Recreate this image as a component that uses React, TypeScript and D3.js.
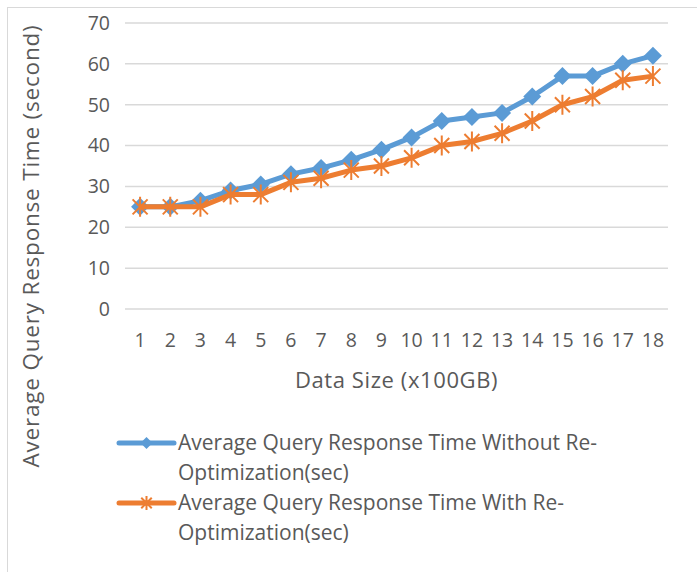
import { useEffect, useRef } from 'react';
import * as d3 from 'd3';

const categories = ['1', '2', '3', '4', '5', '6', '7', '8', '9', '10', '11', '12', '13', '14', '15', '16', '17', '18'];
const withoutReopt = [25, 25, 26.5, 29, 30.5, 33, 34.5, 36.5, 39, 42, 46, 47, 48, 52, 57, 57, 60, 62];
const withReopt = [25, 25, 25, 28, 28, 31, 32, 34, 35, 37, 40, 41, 43, 46, 50, 52, 56, 57];
const yTicks = [0, 10, 20, 30, 40, 50, 60, 70];
const seriesNames = [
  ['Average Query Response Time Without Re-', 'Optimization(sec)'],
  ['Average Query Response Time With Re-', 'Optimization(sec)'],
];

export default function App() {
  const svgRef = useRef<SVGSVGElement>(null);

  useEffect(() => {
    const W = 697, H = 572;
    const left = 125, right = 668, top = 23, bottom = 309;
    const font = '"Open Sans", Lato, sans-serif';
    const textColor = '#595959';
    const blue = '#5b9bd5', orange = '#ed7d31';

    const svg = d3.select(svgRef.current).attr('width', W).attr('height', H);
    svg.selectAll('*').remove();

    // chart border (only top/left visible in the crop)
    svg.append('rect').attr('x', 7.5).attr('y', 7.5).attr('width', W + 20).attr('height', H + 20)
      .attr('fill', '#fff').attr('stroke', '#d9d9d9').attr('stroke-width', 1);

    const x = d3.scaleBand().domain(categories).range([left, right]);
    const y = d3.scaleLinear().domain([0, 70]).range([bottom, top]);
    const cx = (i: number) => (x(categories[i]) as number) + x.bandwidth() / 2;

    // grid
    svg.append('g').selectAll('line').data(yTicks).enter().append('line')
      .attr('x1', left).attr('x2', right)
      .attr('y1', d => y(d)).attr('y2', d => y(d))
      .attr('stroke', '#d9d9d9').attr('stroke-width', 1.5);

    // y tick labels
    svg.append('g').selectAll('text').data(yTicks).enter().append('text')
      .attr('x', 110).attr('y', d => y(d)).attr('dy', '0.35em')
      .attr('text-anchor', 'end').attr('fill', textColor)
      .attr('font-family', font).attr('font-size', 19.5).text(d => d);

    // x tick labels
    svg.append('g').selectAll('text').data(categories).enter().append('text')
      .attr('x', (d, i) => cx(i)).attr('y', 340).attr('dy', '0.35em')
      .attr('text-anchor', 'middle').attr('fill', textColor)
      .attr('font-family', font).attr('font-size', 19.5).text(d => d);

    // axis titles
    svg.append('text').attr('x', (left + right) / 2).attr('y', 380).attr('dy', '0.35em')
      .attr('text-anchor', 'middle').attr('fill', textColor).attr('letter-spacing', 0.6)
      .attr('font-family', font).attr('font-size', 22).text('Data Size (x100GB)');
    svg.append('text').attr('transform', 'translate(31,246) rotate(-90)').attr('dy', '0.35em')
      .attr('text-anchor', 'middle').attr('fill', textColor).attr('letter-spacing', 0.8)
      .attr('font-family', font).attr('font-size', 22.5).text('Average Query Response Time (second)');

    const line = d3.line<number>().x((d, i) => cx(i)).y(d => y(d));

    const diamond = (g: any, px: number, py: number, r: number) =>
      g.append('path').attr('d', `M${px},${py - r}L${px + r},${py}L${px},${py + r}L${px - r},${py}Z`).attr('fill', blue);
    const star = (g: any, px: number, py: number, r: number) => {
      const d = r * 0.75;
      g.append('path')
        .attr('d', `M${px},${py - r}L${px},${py + r}M${px - d},${py - d}L${px + d},${py + d}M${px - d},${py + d}L${px + d},${py - d}`)
        .attr('stroke', orange).attr('stroke-width', 2).attr('fill', 'none');
    };

    // blue series
    svg.append('path').datum(withoutReopt).attr('d', line).attr('fill', 'none')
      .attr('stroke', blue).attr('stroke-width', 5).attr('stroke-linejoin', 'round');
    const gb = svg.append('g');
    withoutReopt.forEach((v, i) => diamond(gb, cx(i), y(v), 9));

    // orange series
    svg.append('path').datum(withReopt).attr('d', line).attr('fill', 'none')
      .attr('stroke', orange).attr('stroke-width', 5).attr('stroke-linejoin', 'round');
    const go = svg.append('g');
    withReopt.forEach((v, i) => star(go, cx(i), y(v), 10));

    // legend
    const lg = svg.append('g');
    [blue, orange].forEach((c, k) => {
      const ly = 443 + k * 60;
      lg.append('line').attr('x1', 119).attr('x2', 174).attr('y1', ly).attr('y2', ly)
        .attr('stroke', c).attr('stroke-width', 5).attr('stroke-linecap', 'round');
      if (k === 0) diamond(lg, 146.5, ly, 6);
      else star(lg, 146.5, ly, 7);
      seriesNames[k].forEach((t, j) => {
        lg.append('text').attr('x', 178).attr('y', ly + j * 30).attr('dy', '0.35em')
          .attr('fill', textColor).attr('font-family', font).attr('font-size', 21).text(t);
      });
    });
  }, []);

  return <svg ref={svgRef} style={{ position: 'absolute', left: 0, top: 0, display: 'block' }} />;
}
